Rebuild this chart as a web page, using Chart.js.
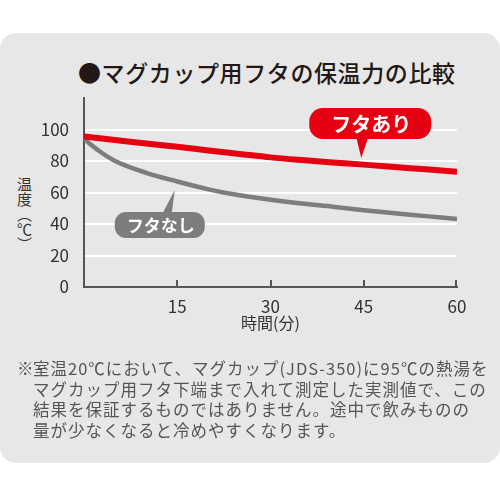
<!DOCTYPE html>
<html lang="ja">
<head>
<meta charset="utf-8">
<script src="https://cdn.jsdelivr.net/npm/chart.js@4.4.1/dist/chart.umd.min.js"></script>
<style>
  html, body { margin:0; padding:0; background:#fff; }
  body { width:500px; height:500px; position:relative; overflow:hidden; font-family:"Noto Sans CJK JP", "Noto Sans", sans-serif; }
  #panel { position:absolute; left:0; top:33px; width:500px; height:430px; background:#e7e7e7; border-radius:16px; }
  #chart { position:absolute; left:0; top:0; }
  #title { position:absolute; left:78px; top:56px; font-size:23px; font-weight:500; letter-spacing:0.6px; color:#231815; line-height:32px; white-space:nowrap; }
  #ytitle { position:absolute; left:15px; top:177px; writing-mode:vertical-rl; font-size:15px; color:#333; line-height:18px; }
  #note { position:absolute; left:33px; top:358px; font-size:16.5px; letter-spacing:1px; color:#555; line-height:20.7px; white-space:nowrap; }
  #note .mark { position:absolute; left:-16px; top:0; letter-spacing:0; }
</style>
</head>
<body>
<div id="panel"></div>
<div id="title">●マグカップ用フタの保温力の比較</div>
<div id="ytitle">温度（℃）</div>
<canvas id="chart" width="500" height="500"></canvas>
<div id="note"><span class="mark">※</span>室温20℃において、マグカップ(JDS-350)に95℃の熱湯を<br>マグカップ用フタ下端まで入れて測定した実測値で、この<br>結果を保証するものではありません。途中で飲みものの<br>量が少なくなると冷めやすくなります。</div>
<script>
// データ(分, ℃)
const minutes = [0, 2.5, 5, 10, 15, 20, 25, 30, 35, 40, 45, 50, 55, 60];
const withLid = [95.5, 94.4, 93.3, 91.1, 89, 86.7, 84.5, 82.3, 80.6, 79.1, 77.7, 76.2, 74.7, 73.2];
const noLid = [94, 86.2, 80, 72.5, 67, 62, 58.2, 55.4, 53, 51, 48.8, 46.8, 45, 43.2];
const xTicks = [15, 30, 45, 60];
const yTicks = [0, 20, 40, 60, 80, 100];

const family = '"Noto Sans CJK JP", "Noto Sans", sans-serif';
const RED = '#e50012';
const GRAY = '#7d7d7d';

// x軸の内向き目盛り
const tickMarks = {
  id: 'tickMarks',
  afterDraw(chart) {
    const { ctx, scales: { x }, chartArea } = chart;
    ctx.save();
    ctx.strokeStyle = '#555';
    ctx.lineWidth = 2;
    xTicks.forEach(v => {
      const px = Math.round(x.getPixelForValue(v)) - (v === 60 ? 1 : 0);
      ctx.beginPath();
      ctx.moveTo(px, chartArea.bottom);
      ctx.lineTo(px, chartArea.bottom - 7);
      ctx.stroke();
    });
    ctx.restore();
  }
};

// 吹き出しラベル
function bubble(ctx, box, tail, color, text, size) {
  ctx.fillStyle = color;
  ctx.beginPath();
  ctx.roundRect(box.x, box.y, box.w, box.h, box.h / 2.3);
  ctx.fill();
  ctx.beginPath();
  ctx.moveTo(tail[0][0], tail[0][1]);
  ctx.lineTo(tail[1][0], tail[1][1]);
  ctx.lineTo(tail[2][0], tail[2][1]);
  ctx.closePath();
  ctx.fill();
  ctx.fillStyle = '#fff';
  ctx.font = 'bold ' + size + 'px ' + family;
  ctx.textAlign = 'center';
  ctx.textBaseline = 'middle';
  ctx.fillText(text, box.x + box.w / 2 + 1, box.y + box.h / 2 + 1);
}

const callouts = {
  id: 'callouts',
  afterDraw(chart) {
    const { ctx, scales: { x, y } } = chart;
    ctx.save();
    // フタあり
    let ax = x.getPixelForValue(44.6), ay = y.getPixelForValue(81.9);
    bubble(ctx, { x: ax - 52, y: ay - 50, w: 122, h: 31 },
      [[ax - 5, ay - 21], [ax + 7, ay - 21], [ax, ay]], RED, 'フタあり', 20);
    // フタなし
    ax = x.getPixelForValue(14.6); ay = y.getPixelForValue(61.6);
    bubble(ctx, { x: ax - 60, y: ay + 22, w: 90, h: 26 },
      [[ax - 12, ay + 23], [ax - 3, ay + 23], [ax, ay]], GRAY, 'フタなし', 17);
    ctx.restore();
  }
};

new Chart(document.getElementById('chart'), {
  type: 'line',
  data: {
    datasets: [
      {
        label: 'フタあり',
        data: minutes.map((m, i) => ({ x: m, y: withLid[i] })),
        borderColor: RED, borderWidth: 6, pointRadius: 0,
        cubicInterpolationMode: 'monotone', fill: false
      },
      {
        label: 'フタなし',
        data: minutes.map((m, i) => ({ x: m, y: noLid[i] })),
        borderColor: GRAY, borderWidth: 4.5, pointRadius: 0,
        cubicInterpolationMode: 'monotone', fill: false
      }
    ]
  },
  options: {
    responsive: false,
    animation: false,
    layout: { padding: { left: 0, right: 43, top: 98, bottom: 163 } },
    plugins: { legend: { display: false }, tooltip: { enabled: false } },
    scales: {
      x: {
        type: 'linear', min: 0, max: 60,
        afterFit(s) { s.height = 50; },
        afterBuildTicks(s) { s.ticks = [0].concat(xTicks).map(v => ({ value: v })); },
        ticks: {
          padding: 9, color: '#333', font: { size: 17, family },
          callback: v => (v === 0 ? '' : v)
        },
        grid: { display: false, drawTicks: false },
        border: { color: '#555', width: 2 },
        title: {
          display: true, text: '時間(分)', color: '#333',
          font: { size: 16, family }, padding: { top: 0, bottom: 4 }
        }
      },
      y: {
        min: 0, max: 120,
        afterFit(s) { s.width = 84; },
        afterBuildTicks(s) { s.ticks = yTicks.concat([120]).map(v => ({ value: v })); },
        ticks: {
          padding: 15, color: '#333', font: { size: 17, family },
          callback: v => (v === 120 ? '' : v)
        },
        grid: {
          color: c => (c.tick && (c.tick.value === 0 || c.tick.value === 120)) ? 'rgba(0,0,0,0)' : '#fff',
          lineWidth: 2, drawTicks: false
        },
        border: { color: '#555', width: 2 }
      }
    }
  },
  plugins: [tickMarks, callouts]
});
</script>
</body>
</html>
